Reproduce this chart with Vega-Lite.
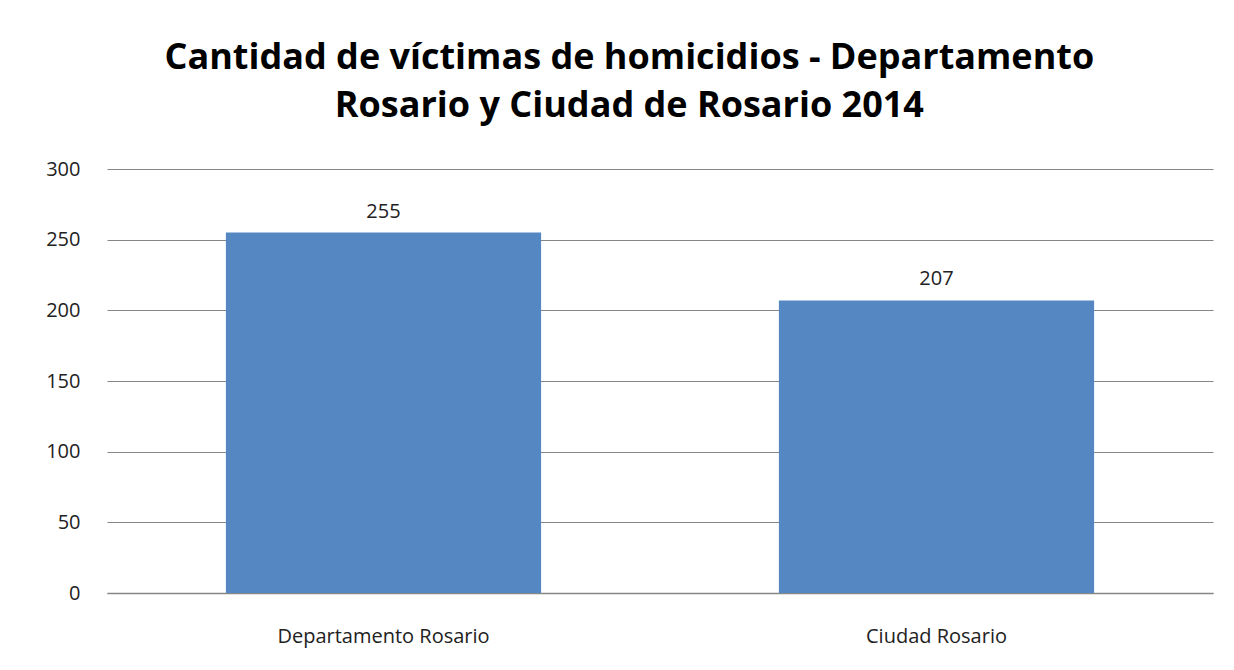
{
  "$schema": "https://vega.github.io/schema/vega-lite/v6.json",
  "width": 1106,
  "height": 424,
  "padding": {"left": 45, "top": 40, "right": 21, "bottom": 20},
  "background": "white",
  "title": {
    "text": ["Cantidad de víctimas de homicidios - Departamento", "Rosario y Ciudad de Rosario 2014"],
    "font": "Open Sans",
    "fontSize": 36,
    "fontWeight": "bold",
    "color": "#000000",
    "lineHeight": 48,
    "anchor": "middle",
    "frame": "bounds",
    "offset": 34
  },
  "data": {
    "values": [
      {"lugar": "Departamento Rosario", "victimas": 255},
      {"lugar": "Ciudad Rosario", "victimas": 207}
    ]
  },
  "config": {
    "view": {"stroke": null},
    "font": "Open Sans"
  },
  "encoding": {
    "x": {
      "field": "lugar",
      "type": "nominal",
      "sort": null,
      "title": null,
      "scale": {"paddingInner": 0.43, "paddingOuter": 0.215},
      "axis": {
        "labelAngle": 0,
        "labelFont": "Open Sans",
        "labelFontSize": 20,
        "labelColor": "#222222",
        "labelPadding": 33,
        "labelLimit": 0,
        "ticks": false,
        "domainColor": "#868686",
        "domainWidth": 1.5,
        "grid": false
      }
    },
    "y": {
      "field": "victimas",
      "type": "quantitative",
      "title": null,
      "scale": {"domain": [0, 300]},
      "axis": {
        "values": [0, 50, 100, 150, 200, 250, 300],
        "labelFont": "Open Sans",
        "labelFontSize": 20,
        "labelColor": "#222222",
        "labelPadding": 27,
        "ticks": false,
        "domain": false,
        "gridColor": "#868686",
        "gridWidth": 1
      }
    }
  },
  "layer": [
    {"mark": {"type": "bar", "color": "#5588C2"}},
    {
      "mark": {"type": "text", "dy": -21, "fontSize": 20, "color": "#222222", "font": "Open Sans"},
      "encoding": {"text": {"field": "victimas", "type": "quantitative"}}
    }
  ]
}
